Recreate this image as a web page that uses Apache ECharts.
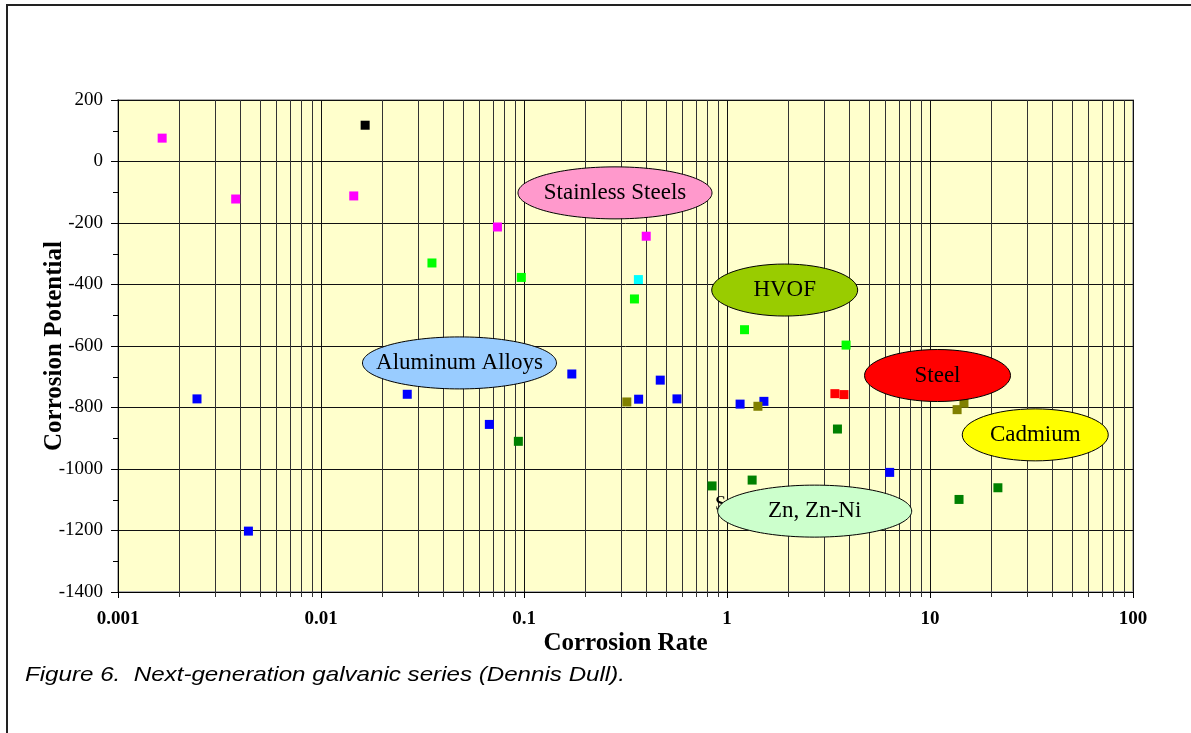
<!DOCTYPE html>
<html>
<head>
<meta charset="utf-8">
<script src="https://cdn.jsdelivr.net/npm/echarts@6/dist/echarts.min.js"></script>
<style>
html,body{margin:0;padding:0;background:#fff;}
#chart{width:1191px;height:733px;}
</style>
</head>
<body>
<div id="chart"></div>
<script>
// ---- data ----
const stainless = [[0.00165,76],[0.0038,-122],[0.0145,-112],[0.074,-213],[0.40,-243]];
const blackPt   = [[0.0165,118]];
const hvof      = [[0.0352,-330],[0.097,-377],[0.35,-447],[1.22,-547],[3.86,-597]];
const cyanPt    = [[0.366,-384]];
const aluminum  = [[0.00245,-772],[0.00439,-1202],[0.0266,-757],[0.0675,-855],[0.172,-691],[0.367,-773],[0.469,-711],[0.567,-772],[1.16,-789],[1.52,-780],[6.33,-1011]];
const cadmium   = [[0.321,-782],[1.42,-796],[13.6,-807],[14.7,-786]];
const steel     = [[3.40,-755],[3.77,-758]];
const zinc      = [[0.0938,-910],[0.844,-1055],[1.33,-1036],[3.50,-870],[13.9,-1099],[21.6,-1061]];

const xMin = 0.001, xMax = 100;
const yMin = -1400, yMax = 200, yStep = 200;
const minorX = [];
for (let d = -3; d < 2; d++) { for (let m = 2; m <= 9; m++) minorX.push(Number((m * Math.pow(10, d)).toPrecision(3))); }

// annotation label anchors (data coords) and texts
const annoX    = [0.893, 0.2807, 1.924, 0.0481, 10.89, 33.0, 2.704];
const annoY    = [-1117, -102, -418, -655, -696, -889, -1137];
const annoText = ['S', 'Stainless Steels', 'HVOF', 'Aluminum Alloys', 'Steel', 'Cadmium', 'Zn, Zn-Ni'];
// styles for the annotations
const annoFill = [null, '#FF99CC', '#99CC00', '#99CCFF', '#FF0000', '#FFFF00', '#CCFFCC'];
const annoRx   = [0, 97, 73, 97, 73, 73, 97];

const serif = '"Liberation Serif","Times New Roman",serif';
const chart = echarts.init(document.getElementById('chart'));

function sc(name, data, color) {
  return { name, type: 'scatter', data, symbol: 'rect', symbolSize: 9,
    itemStyle: { color, opacity: 1 }, z: 3, emphasis: { disabled: true } };
}

chart.setOption({
  animation: false,
  backgroundColor: '#fff',
  grid: { left: 118, right: 58, top: 100, bottom: 141, show: true,
    backgroundColor: '#FFFFCC', borderColor: '#b0b0b0', borderWidth: 2 },
  xAxis: {
    type: 'log', logBase: 10, min: xMin, max: xMax,
    name: 'Corrosion Rate', nameLocation: 'middle', nameGap: 39, nameMoveOverlap: false,
    nameTextStyle: { fontFamily: serif, fontWeight: 'bold', fontSize: 25, color: '#000' },
    axisLine: { show: true, onZero: false, lineStyle: { color: '#000', width: 1 } },
    axisTick: { show: true, length: 6, lineStyle: { color: '#000' } },
    axisLabel: { margin: 18, fontFamily: serif, fontWeight: 'bold', fontSize: 19, color: '#000',
      formatter: v => String(Number(Number(v).toPrecision(3))) },
    splitLine: { show: true, lineStyle: { color: '#111', width: 1 } }
  },
  yAxis: {
    type: 'value', min: yMin, max: yMax, interval: yStep,
    name: 'Corrosion Potential', nameLocation: 'middle', nameGap: 51, nameMoveOverlap: false,
    nameTextStyle: { fontFamily: serif, fontWeight: 'bold', fontSize: 25, color: '#000' },
    axisLine: { show: true, onZero: false, lineStyle: { color: '#000', width: 1 } },
    axisTick: { show: true, length: 7, lineStyle: { color: '#000' } },
    minorTick: { show: true, splitNumber: 2, length: 5, lineStyle: { color: '#000' } },
    axisLabel: { margin: 15, fontFamily: serif, fontSize: 19, color: '#000',
      formatter: v => String(v) },
    splitLine: { show: true, lineStyle: { color: '#111', width: 1 } }
  },
  series: [
    { name: 'minorGrid', type: 'custom', silent: true, z: 1,
      data: minorX.map(v => [v, yMin]),
      renderItem: function (params, api) {
        const p = api.coord([api.value(0), api.value(1)]);
        const cs = params.coordSys;
        const x = Math.round(p[0]) + 0.5;
        return { type: 'line', shape: { x1: x, y1: cs.y, x2: x, y2: p[1] + 5 },
          style: { stroke: '#333', lineWidth: 1 } };
      }, clip: false },
    sc('Stainless', stainless, '#FF00FF'),
    sc('Black', blackPt, '#000000'),
    sc('HVOF', hvof, '#00FF00'),
    sc('Cyan', cyanPt, '#00FFFF'),
    sc('Aluminum', aluminum, '#0000FF'),
    sc('Cadmium', cadmium, '#808000'),
    sc('Steel', steel, '#FF0000'),
    sc('Zinc', zinc, '#008000'),
    { name: 'labels', type: 'custom', silent: true, z: 5, clip: false,
      data: annoX.map((x, i) => [x, annoY[i]]),
      renderItem: function (params, api) {
        const i = params.dataIndex;
        const p = api.coord([api.value(0), api.value(1)]);
        if (!annoFill[i]) {
          return { type: 'text', style: { text: annoText[i], x: p[0] - 2, y: p[1], fill: '#000',
            font: '20px ' + serif, textAlign: 'left', textVerticalAlign: 'middle' } };
        }
        return { type: 'group', children: [
          { type: 'ellipse', shape: { cx: p[0], cy: p[1], rx: annoRx[i], ry: 26 },
            style: { fill: annoFill[i], stroke: '#000', lineWidth: 1 } },
          { type: 'text', style: { text: annoText[i], x: p[0], y: p[1], fill: '#000',
            font: '23px ' + serif, textAlign: 'center', textVerticalAlign: 'middle' } }
        ] };
      } }
  ],
  graphic: [
    { type: 'rect', shape: { x: 7, y: 5, width: 1250, height: 800 }, silent: true,
      style: { fill: 'none', stroke: '#222', lineWidth: 2 } },
    { type: 'text', x: 25, y: 675, scaleX: 1.15, silent: true,
      style: { text: 'Figure 6.  Next-generation galvanic series (Dennis Dull).',
        font: 'italic 21px "Liberation Sans", Arial, sans-serif', fill: '#000',
        textVerticalAlign: 'middle' } }
  ]
});
</script>
</body>
</html>
